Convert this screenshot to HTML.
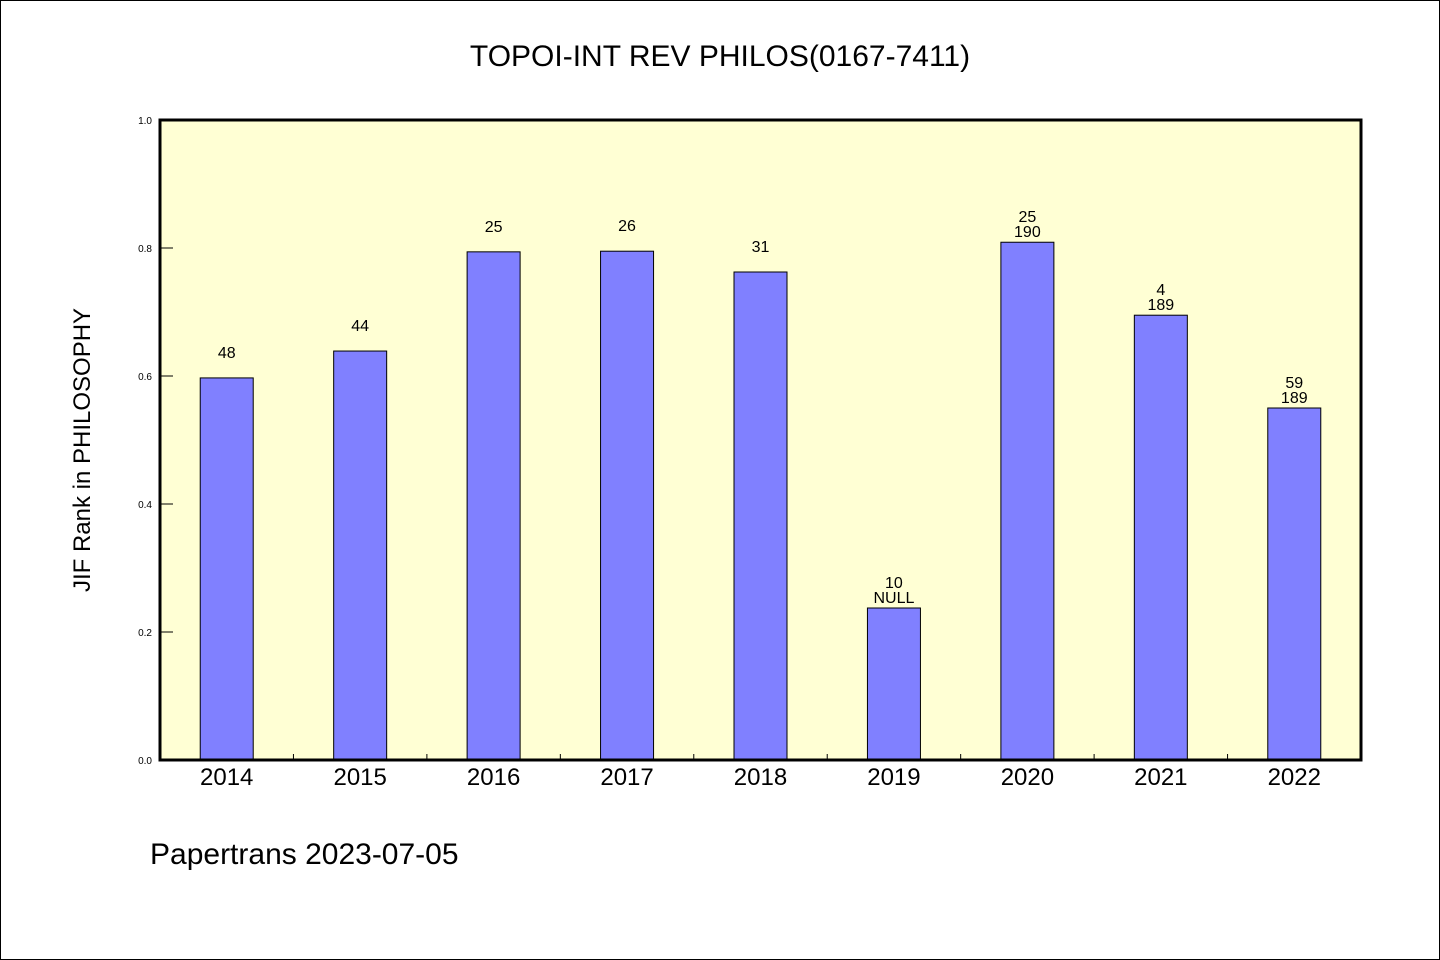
<!DOCTYPE html>
<html><head><meta charset="utf-8"><style>
html,body{margin:0;padding:0;background:#fff}
svg{display:block}
text{font-family:"WenQuanYi Zen Hei","Liberation Sans",sans-serif;fill:#000}
</style></head><body>
<svg id="chart" width="1440" height="960">
<rect x="0.5" y="0.5" width="1439" height="959" fill="#fff" stroke="#000"/>
<text x="720" y="66" font-size="30" text-anchor="middle">TOPOI-INT REV PHILOS(0167-7411)</text>
<rect x="160" y="120" width="1201" height="640" fill="#ffffd4"/>
<g id="bars"></g>
<g id="axes"></g>
<rect x="160" y="120" width="1201" height="640" fill="none" stroke="#000" stroke-width="3"/>
<text transform="translate(90,450) rotate(-90)" font-size="24" text-anchor="middle">JIF Rank in PHILOSOPHY</text>
<text x="150" y="864" font-size="30">Papertrans 2023-07-05</text>
</svg>
<script>
const categories=["2014","2015","2016","2017","2018","2019","2020","2021","2022"];
const values=[0.597,0.639,0.794,0.795,0.7625,0.2375,0.809,0.695,0.55];
const topLabels=["48","44","25","26","31","10","25","4","59"];
const bottomLabels=["","","","","","NULL","190","189","189"];
const yTicks=[0,0.2,0.4,0.6,0.8,1.0];
const tickLabels=["0.0","0.2","0.4","0.6","0.8","1.0"];
const NS="http://www.w3.org/2000/svg";
const X0=160,W=1201,Y0=760,H=640;
const step=W/categories.length;
const xc=i=>X0+step*(i+0.5);
const ys=v=>Y0-v*H;
function mk(tag,attrs,parent,txt){const e=document.createElementNS(NS,tag);for(const k in attrs)e.setAttribute(k,attrs[k]);if(txt!==undefined)e.textContent=txt;parent.appendChild(e);return e;}
const bars=document.getElementById('bars'),axes=document.getElementById('axes');
categories.forEach((c,i)=>{
  const y=ys(values[i]);
  const r=mk('rect',{x:xc(i)-26.5,y:y,width:53,height:Y0-y,fill:'#8080ff',stroke:'#000','stroke-width':1},bars);
  
  
  if(bottomLabels[i]){
    const t1=mk('text',{x:xc(i),y:y-20,'font-size':16,'text-anchor':'middle'},bars,topLabels[i]);
    
    
    const t2=mk('text',{x:xc(i),y:y-5,'font-size':16,'text-anchor':'middle'},bars,bottomLabels[i]);
    
    
  } else {
    const t1=mk('text',{x:xc(i),y:y-20,'font-size':16,'text-anchor':'middle'},bars,topLabels[i]);
    
    
  }
  const xl=mk('text',{x:xc(i),y:785,'font-size':24,'text-anchor':'middle'},axes,c);
  
  
  if(i>0){
    const tk=mk('line',{x1:X0+step*i,x2:X0+step*i,y1:Y0,y2:Y0-6,stroke:'#000','stroke-width':1},axes);
    
    
  }
});
yTicks.forEach((v,i)=>{
  const y=ys(v);
  const tk=mk('line',{x1:X0,x2:X0+13,y1:y,y2:y,stroke:'#000','stroke-width':1},axes);
  
  
  const tl=mk('text',{x:152,y:y+4,'font-size':10,'text-anchor':'end'},axes,tickLabels[i]);
  
  
});
</script>
</body></html>
